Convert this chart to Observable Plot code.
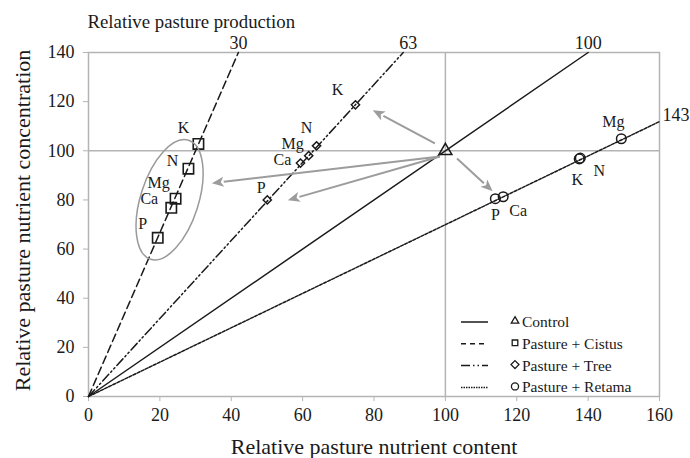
<!DOCTYPE html>
<html>
<head>
<meta charset="utf-8">
<script src="https://cdn.jsdelivr.net/npm/d3@7"></script>
<script src="https://cdn.jsdelivr.net/npm/@observablehq/plot@0.6"></script>
<style>
  body { margin: 0; background: #fff; }
  #chart svg { display: block; }
</style>
</head>
<body>
<div id="chart"></div>
<script>
// Relative pasture production lines (slope = 100 / production)
const productions = [30, 63, 100, 143];
const productionStyles = ["8,4", "9,3,1.5,3,1.5,3", null, "3,1.5"];

// Nutrients measured in each treatment
const nutrients = ["K", "N", "Mg", "Ca", "P"];

// Relative pasture nutrient content (x) and concentration (y)
const cistusContent = [30.8, 28.0, 24.4, 23.2, 19.4];
const cistusConcentration = [102.8, 92.7, 80.5, 76.8, 64.6];
const treeContent = [74.8, 63.9, 61.7, 59.4, 50.1];
const treeConcentration = [118.7, 102.0, 98.0, 95.0, 80.0];
const retamaContent = [137.5, 137.8, 149.3, 116.2, 114.0];
const retamaConcentration = [96.7, 97.0, 104.9, 81.3, 80.5];
const controlContent = [100];
const controlConcentration = [100];

// Shift arrows from the control to each treatment group
const arrowFromX = [97.2, 98.6, 98.6, 103.4];
const arrowFromY = [102.8, 97.5, 97.5, 96.7];
const arrowToX = [79.8, 34.7, 56.0, 113.4];
const arrowToY = [116.3, 86.6, 79.7, 83.3];

const xTicks = [0, 20, 40, 60, 80, 100, 120, 140, 160];
const yTicks = [0, 20, 40, 60, 80, 100, 120, 140];

const serif = "'Liberation Serif', 'Times New Roman', serif";
const grey = "#b4b4b4";
const ink = "#1a1a1a";

const toPoints = (xs, ys) => nutrients.map((n, i) => ({nutrient: n, x: xs[i], y: ys[i]}));
const cistus = toPoints(cistusContent, cistusConcentration);
const tree = toPoints(treeContent, treeConcentration);
const retama = toPoints(retamaContent, retamaConcentration);
const control = [{x: controlContent[0], y: controlConcentration[0]}];

// Each production line runs from the origin until it leaves the frame
const lineData = productions.map((p) => {
  const slope = 100 / p;
  const xEnd = Math.min(160, 140 / slope);
  return {p, pts: [{x: 0, y: 0}, {x: xEnd, y: xEnd * slope}]};
});

const arrows = arrowFromX.map((_, i) => ({x1: arrowFromX[i], y1: arrowFromY[i], x2: arrowToX[i], y2: arrowToY[i]}));

// Label offsets (pixels) for the nutrient names
const labelOffsets = {
  cistus: {K: [-15, -16], N: [-16, -8], Mg: [-17, -16], Ca: [-22, -9], P: [-15, -14]},
  tree: {K: [-18, -15], N: [-10, -18], Mg: [-16, -12], Ca: [-18, -3], P: [-6, -12]},
  retama: {K: [-2, 21], N: [19, 13], Mg: [-8, -17], Ca: [15, 14], P: [0, 16]}
};
const lineLabelOffsets = {30: [0, -9, "middle"], 63: [5, -9, "middle"], 100: [0, -9, "middle"], 143: [3, -6, "start"]};

const labelMarks = [];
for (const [name, pts] of [["cistus", cistus], ["tree", tree], ["retama", retama]]) {
  for (const d of pts) {
    const [dx, dy] = labelOffsets[name][d.nutrient];
    labelMarks.push(Plot.text([d], {x: "x", y: "y", text: "nutrient", dx, dy, fontSize: 16, fill: ink}));
  }
}
const lineMarks = [];
const lineLabelMarks = [];
lineData.forEach((l, i) => {
  lineMarks.push(Plot.line(l.pts, {x: "x", y: "y", stroke: ink, strokeWidth: 1.5, strokeDasharray: productionStyles[i]}));
  const [dx, dy, anchor] = lineLabelOffsets[l.p];
  lineLabelMarks.push(Plot.text([l.pts[1]], {x: "x", y: "y", text: () => String(l.p), dx, dy, textAnchor: anchor, fontSize: 18, fill: ink}));
});

const plot = Plot.plot({
  width: 690,
  height: 458,
  marginTop: 52,
  marginRight: 31,
  marginBottom: 62,
  marginLeft: 88,
  style: {fontFamily: serif, fontSize: "18px", background: "#fff"},
  x: {domain: [0, 160]},
  y: {domain: [0, 140]},
  marks: [
    Plot.frame({stroke: grey, strokeWidth: 1.5}),
    Plot.ruleX([100], {stroke: grey, strokeWidth: 1.5}),
    Plot.ruleY([100], {stroke: grey, strokeWidth: 1.5}),
    Plot.axisX({ticks: xTicks, tickSize: 5, tickPadding: 7, stroke: grey, fill: ink, fontSize: 18, label: null}),
    Plot.axisY({ticks: yTicks, tickSize: 5, tickPadding: 9, stroke: grey, fill: ink, fontSize: 18, label: null}),
    ...lineMarks,
    ...lineLabelMarks,
    Plot.dot(cistus, {x: "x", y: "y", symbol: "square2", r: 6.6, stroke: ink, strokeWidth: 1.6, fill: "none"}),
    Plot.dot(tree, {x: "x", y: "y", symbol: "diamond2", r: 3.7, stroke: ink, strokeWidth: 1.5, fill: "none"}),
    Plot.dot(retama, {x: "x", y: "y", symbol: "circle", r: 4.8, stroke: ink, strokeWidth: 1.5, fill: "none"}),
    Plot.dot(control, {x: "x", y: "y", symbol: "triangle2", r: 6.2, stroke: ink, strokeWidth: 1.5, fill: "none"}),
    ...labelMarks,
    Plot.text(["Relative pasture production"], {frameAnchor: "top-left", textAnchor: "start", lineAnchor: "middle", dx: -1, dy: -31, fontSize: 18.8, fill: ink}),
    Plot.text(["Relative pasture nutrient concentration"], {frameAnchor: "left", textAnchor: "middle", lineAnchor: "middle", rotate: -90, dx: -66, dy: -4, fontSize: 22, fill: ink}),
    Plot.text(["Relative pasture nutrient content"], {frameAnchor: "bottom", textAnchor: "middle", lineAnchor: "middle", dy: 50, fontSize: 22, fill: ink})
  ]
});

document.getElementById("chart").appendChild(plot);

const sx = plot.scale("x");
const sy = plot.scale("y");
const svg = d3.select(plot);

// Grey ellipse grouping the Cistus points
const cx = sx.apply(d3.mean(cistusContent) - 2.3);
const cy = sy.apply(d3.mean(cistusConcentration) - 3.6);
svg.append("ellipse")
  .attr("cx", cx).attr("cy", cy)
  .attr("rx", 29).attr("ry", 62.5)
  .attr("transform", `rotate(17.7 ${cx} ${cy})`)
  .attr("fill", "none").attr("stroke", "#9a9a9a").attr("stroke-width", 1.5);

// Grey arrows with filled heads
const arrowLayer = svg.append("g").attr("fill", "#9c9c9c").attr("stroke", "#9c9c9c");
for (const a of arrows) {
  const x1 = sx.apply(a.x1), y1 = sy.apply(a.y1), x2 = sx.apply(a.x2), y2 = sy.apply(a.y2);
  const ang = Math.atan2(y2 - y1, x2 - x1);
  const head = 12, half = 5;
  const bx = x2 - head * Math.cos(ang), by = y2 - head * Math.sin(ang);
  arrowLayer.append("line")
    .attr("x1", x1).attr("y1", y1).attr("x2", bx).attr("y2", by)
    .attr("stroke-width", 2);
  const px = -Math.sin(ang) * half, py = Math.cos(ang) * half;
  arrowLayer.append("path")
    .attr("stroke", "none")
    .attr("d", `M${x2},${y2}L${bx + px},${by + py}L${bx + 3 * Math.cos(ang)},${by + 3 * Math.sin(ang)}L${bx - px},${by - py}Z`);
}

// Legend, bottom right inside the frame
const legendItems = [
  {label: "Control", dash: null, symbol: d3.symbolTriangle2},
  {label: "Pasture + Cistus", dash: "5,4", symbol: d3.symbolSquare2},
  {label: "Pasture + Tree", dash: "9,3,1.5,3,1.5,3", symbol: d3.symbolDiamond2},
  {label: "Pasture + Retama", dash: "1.5,1", symbol: d3.symbolCircle}
];
const legend = svg.append("g")
  .attr("font-family", serif).attr("font-size", 15.5).attr("fill", ink)
  .attr("text-anchor", "start");
legendItems.forEach((item, i) => {
  const y = 322 + i * 21.8;
  legend.append("line")
    .attr("x1", 461).attr("x2", 488).attr("y1", y).attr("y2", y)
    .attr("stroke", ink).attr("stroke-width", 1.5)
    .attr("stroke-dasharray", item.dash);
  legend.append("path")
    .attr("transform", `translate(515,${y - 1})`)
    .attr("d", d3.symbol(item.symbol, 40)())
    .attr("fill", "none").attr("stroke", ink).attr("stroke-width", 1.3);
  legend.append("text")
    .attr("x", 522).attr("y", y).attr("dy", "0.32em")
    .text(item.label);
});
</script>
</body>
</html>
